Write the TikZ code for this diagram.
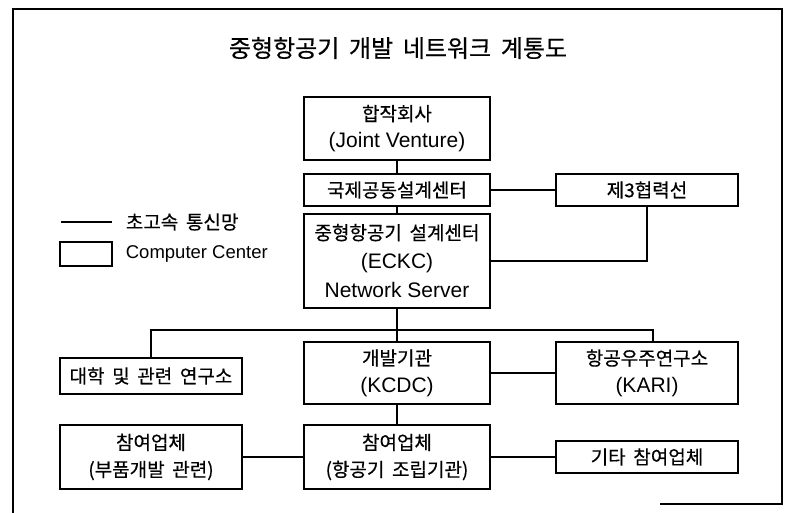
\documentclass[tikz,border=0pt]{standalone}
\usepackage{fontspec}
\setmainfont{Liberation Sans}
\newfontfamily\kr[FakeBold=0.5, WordSpace=1.8]{Noto Sans CJK KR}
\usetikzlibrary{positioning}

\newcommand{\kor}[1]{{\kr\fontsize{19}{27}\selectfont #1}}

\begin{document}
\begin{tikzpicture}[x=1pt, y=-1pt, line width=1.1pt,
    box/.style = {draw, align=center, inner sep=0pt, minimum width=186pt, font=\fontsize{21}{27}\selectfont},
    side/.style = {box, minimum width=182pt}]
        \useasboundingbox (0,0) rectangle (793,513);
        % frame
        \draw (13,513) -- (13,9) -- (782,9) -- (782,504) -- (660,504);

        \node (title) at (398,48) {\kr\fontsize{24}{28}\selectfont 중형항공기 개발 네트워크 계통도};

        % legend
        \coordinate (la) at (61,222);
        \coordinate (lb) at (112,222);
        \draw (la) -- (lb);
        \node [anchor=west] (lnet) at (122,222) {\kor{초고속 통신망}};
        \node [draw, minimum width=52pt, minimum height=24pt] (lbox) at (86,254) {};
        \node [anchor=west, font=\fontsize{18.5}{22}\selectfont] (lcc) at (122,254) {Computer Center};

        % centre column
        \node [box, minimum height=63pt] (jv) at (397,128.5) {\kor{합작회사}\\(Joint Venture)};
        \node [box, minimum height=32pt] (intl) at (397,190) {\kor{국제공동설계센터}};
        \node [box, minimum height=94pt, font=\fontsize{21}{29}\selectfont] (eckc) at (397,261) {\kor{중형항공기 설계센터}\\(ECKC)\\Network Server};
        \node [box, minimum height=62pt] (kcdc) at (397,373) {\kor{개발기관}\\(KCDC)};
        \node [box, minimum height=64pt] (assem) at (397,457) {\kor{참여업체}\\\kor{(항공기 조립기관)}};

        % side columns
        \node [side, minimum height=32pt] (third) at (647,190) {\kor{제3협력선}};
        \node [side, minimum height=62pt] (kari) at (647,373) {\kor{항공우주연구소}\\(KARI)};
        \node [side, minimum height=32pt] (etc) at (647,457) {\kor{기타 참여업체}};
        \node [side, minimum height=36pt] (univ) at (151,376) {\kor{대학 및 관련 연구소}};
        \node [side, minimum height=64pt] (parts) at (151,457) {\kor{참여업체}\\\kor{(부품개발 관련)}};

        % network
        \coordinate (busR) at (653,330);
        \draw (jv) -- (intl);
        \draw (intl) -- (third);
        \draw (intl) -- (eckc);
        \draw (third.south) |- (eckc.east);
        \draw (eckc) -- (kcdc);
        \draw (univ.north) |- (busR) -- (busR |- kari.north);
        \draw (kcdc) -- (kari);
        \draw (kcdc) -- (assem);
        \foreach \n in {parts, etc}
                 {
                   \draw (assem) -- (\n);
                 }
\end{tikzpicture}
\end{document}
